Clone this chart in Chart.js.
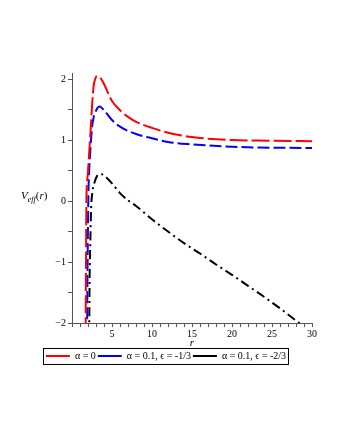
<!DOCTYPE html>
<html>
<head>
<meta charset="utf-8">
<script src="https://cdn.jsdelivr.net/npm/chart.js@4.4.0/dist/chart.umd.min.js"></script>
<style>
  body { margin: 0; background: #fff; }
  #wrap { position: relative; width: 340px; height: 440px; }
  #ylab { position: absolute; left: 21px; top: 189px; font: 11px "Liberation Serif", serif; color: #000; white-space: nowrap; }
  #ylab sub { font-size: 8px; font-style: italic; vertical-align: -3px; }
</style>
</head>
<body>
<div id="wrap">
  <canvas id="chart" width="340" height="440"></canvas>
  <div id="ylab"><i>V</i><sub>eff</sub>(<i>r</i>)</div>
</div>
<script>
// V_eff(r), one r list per curve
const rRed  = [1.7, 1.75, 1.8, 1.95, 2.1, 2.3, 2.5, 2.7, 2.95, 3.2, 3.6, 4, 5, 6, 7, 8, 10, 12, 15, 20, 25, 30];
const vRed  = [-2.2, -1.0, 0.0, 0.4, 0.7, 1.1, 1.55, 1.88, 2.02, 2.05, 2.01, 1.92, 1.64, 1.49, 1.38, 1.30, 1.20, 1.12, 1.05, 1.0, 0.99, 0.98];

const rBlue = [1.88, 1.95, 2.05, 2.15, 2.3, 2.5, 2.7, 2.9, 3.15, 3.45, 4, 5, 6, 8, 10, 12, 15, 20, 25, 30];
const vBlue = [-2.2, -1.0, 0.1, 0.5, 0.85, 1.2, 1.37, 1.45, 1.52, 1.55, 1.49, 1.33, 1.22, 1.10, 1.03, 0.97, 0.93, 0.89, 0.875, 0.87];

const rBlack = [2.15, 2.2, 2.3, 2.4, 2.55, 2.8, 3.05, 3.35, 3.7, 4, 5, 6, 7, 8, 10, 12, 14, 16, 18, 20, 22, 24, 26, 28, 29];
const vBlack = [-2.2, -1.3, -0.6, -0.1, 0.15, 0.3, 0.39, 0.44, 0.44, 0.42, 0.29, 0.13, 0.01, -0.08, -0.3, -0.5, -0.69, -0.86, -1.04, -1.21, -1.39, -1.57, -1.76, -1.96, -2.06];

const seriesLabels = ["α = 0", "α = 0.1, ϵ = -1/3", "α = 0.1, ϵ = -2/3"];
const xTickLabels = [5, 10, 15, 20, 25, 30];
const yTickLabels = [-2, -1, 0, 1, 2];

const FONT = "'Liberation Serif', 'Times New Roman', serif";

function pts(rs, vs) {
  return rs.map((r, i) => ({ x: r, y: vs[i] }));
}

// Maple draws a frame round the legend
const legendFrame = {
  id: "legendFrame",
  afterDraw(chart) {
    const boxes = chart.legend.legendHitBoxes;
    if (!boxes || !boxes.length) return;
    const x0 = Math.min(...boxes.map(b => b.left)) - 3;
    const x1 = Math.max(...boxes.map(b => b.left + b.width)) + 2;
    const y0 = Math.min(...boxes.map(b => b.top)) - 3;
    const y1 = Math.max(...boxes.map(b => b.top + b.height)) + 3;
    const ctx = chart.ctx;
    ctx.save();
    ctx.strokeStyle = "#000";
    ctx.lineWidth = 1;
    ctx.strokeRect(Math.round(x0) + 0.5, Math.round(y0) + 0.5, Math.round(x1 - x0), Math.round(y1 - y0));
    ctx.restore();
  }
};

function line(label, data, color, dash) {
  return {
    label, data,
    borderColor: color,
    backgroundColor: color,
    borderWidth: 2,
    borderDash: dash,
    pointRadius: 0,
    fill: false,
    cubicInterpolationMode: "monotone",
  };
}

new Chart(document.getElementById("chart"), {
  type: "line",
  data: {
    datasets: [
      line(seriesLabels[0], pts(rRed, vRed), "#ff0000", [18, 4]),
      line(seriesLabels[1], pts(rBlue, vBlue), "#0000ff", [12, 4]),
      line(seriesLabels[2], pts(rBlack, vBlack), "#000000", [9, 4, 2, 4]),
    ]
  },
  options: {
    responsive: false,
    animation: false,
    devicePixelRatio: 1,
    layout: { padding: { left: 20, right: 28, top: 73, bottom: 69 } },
    plugins: {
      tooltip: { enabled: false },
      legend: {
        position: "bottom",
        labels: {
          usePointStyle: true,
          pointStyle: "line",
          pointStyleWidth: 24,
          boxHeight: 10,
          padding: 2,
          color: "#000",
          font: { family: FONT, size: 10 },
        }
      }
    },
    scales: {
      x: {
        type: "linear",
        min: 0, max: 30,
        border: { display: true, color: "#555", width: 1 },
        grid: { drawOnChartArea: false, drawTicks: true, tickLength: 4, tickColor: "#555" },
        ticks: {
          stepSize: 1, autoSkip: false, maxRotation: 0, padding: 2,
          color: "#000", font: { family: FONT, size: 10, lineHeight: 1 },
          callback: v => xTickLabels.includes(v) ? String(v) : "",
        },
        title: { display: true, text: "r", color: "#000", padding: { top: -3, bottom: 0 },
                 font: { family: FONT, size: 11, style: "italic", lineHeight: 1 } },
      },
      y: {
        min: -2, max: 2.1,
        afterFit: scale => { scale.width = 52; },
        border: { display: true, color: "#555", width: 1 },
        grid: {
          drawOnChartArea: false, drawTicks: true, tickLength: 4,
          tickColor: c => (Math.abs(c.tick.value * 2 - Math.round(c.tick.value * 2)) < 1e-6 ? "#555" : "rgba(0,0,0,0)"),
        },
        ticks: {
          stepSize: 0.5, autoSkip: false, padding: 2, includeBounds: false,
          color: "#000", font: { family: FONT, size: 10 },
          callback: v => yTickLabels.includes(v) ? (v < 0 ? "−" + Math.abs(v) : String(v)) : "",
        },
      }
    }
  },
  plugins: [legendFrame]
});
</script>
</body>
</html>
